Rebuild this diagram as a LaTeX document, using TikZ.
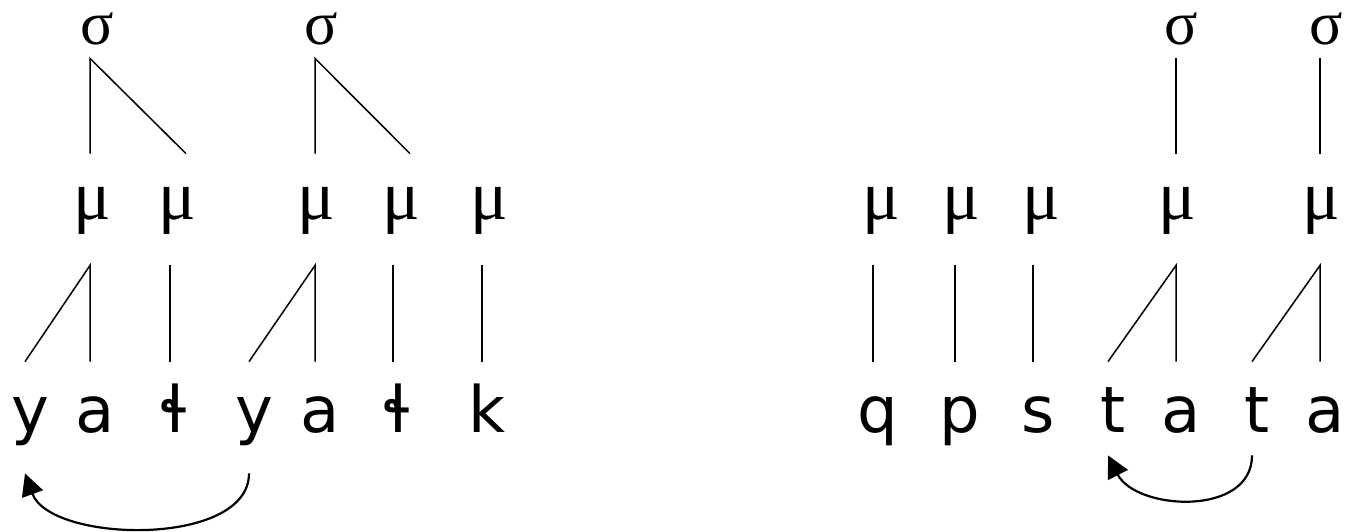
\documentclass[tikz,border=0pt]{standalone}
\usepackage{fontspec}
\setmainfont{DejaVu Sans}
\newfontfamily\segfont{DejaVu Sans}
\newfontfamily\grkfont{Liberation Serif}
\usetikzlibrary{arrows.meta}

\tikzset{
  seg/.style={font=\segfont\fontsize{32}{38}\selectfont, anchor=base,
    inner xsep=0pt, inner ysep=17.5pt, text height=17.5pt, text depth=0pt,
    execute at begin node={\hspace*{5pt}}},
  mora/.style={font=\grkfont\fontsize{35}{40}\selectfont, anchor=base,
    inner xsep=0pt, inner ysep=17pt, text height=15.5pt, text depth=6pt},
  syl/.style={font=\grkfont\fontsize{31}{36}\selectfont, anchor=base,
    inner xsep=0pt, inner ysep=7pt, text height=10pt, text depth=0pt},
  assoc/.style={line width=0.75pt},
  move/.style={line width=1.1pt, -{Triangle[length=11pt,width=11pt]}},
}

\begin{document}
\begin{tikzpicture}[x=0.5pt,y=0.5pt]
  \useasboundingbox (0,0) rectangle (1347,-531);
  % Segments
  \node[seg] (y1) at (25,-432) {y}; %
  \node[seg] (a1) at (90,-432) {a}; %
  \node[seg] (lh1) at (170,-432) {ɬ}; %
  \node[seg] (y2) at (249,-432) {y}; %
  \node[seg] (a2) at (315,-432) {a}; %
  \node[seg] (lh2) at (393,-432) {ɬ}; %
  \node[seg] (k) at (482,-432) {k}; %
  \node[seg] (q) at (873,-432) {q}; %
  \node[seg] (p) at (955,-432) {p}; %
  \node[seg] (s) at (1033,-432) {s}; %
  \node[seg] (t1) at (1108,-432) {t}; %
  \node[seg] (a3) at (1176,-432) {a}; %
  \node[seg] (t2) at (1252,-432) {t}; %
  \node[seg] (a4) at (1320,-432) {a}; %
  % Moras
  \node[mora] (mu1) at (92,-219) {μ}; %
  \node[mora] (mu2) at (177,-219) {μ}; %
  \node[mora] (mu3) at (316,-219) {μ}; %
  \node[mora] (mu4) at (401,-219) {μ}; %
  \node[mora] (mu5) at (489,-219) {μ}; %
  \node[mora] (mu6) at (881,-219) {μ}; %
  \node[mora] (mu7) at (961,-219) {μ}; %
  \node[mora] (mu8) at (1041,-219) {μ}; %
  \node[mora] (mu9) at (1177,-219) {μ}; %
  \node[mora] (mu10) at (1321,-219) {μ}; %
  % Syllables
  \node[syl] (sig1) at (97,-44) {σ}; %
  \node[syl] (sig2) at (321,-44) {σ}; %
  \node[syl] (sig3) at (1181,-44) {σ}; %
  \node[syl] (sig4) at (1326,-44) {σ}; %
  % Syllable to mora
  \draw[assoc] (a1.north |- mu1.north) -- (a1.north |- sig1.south)
    -- ([xshift=4.5pt]mu2.north); %
  \draw[assoc] (a2.north |- mu3.north) -- (a2.north |- sig2.south)
    -- ([xshift=4.5pt]mu4.north); %
  \draw[assoc] (a3.north |- mu9.north) -- (a3.north |- sig3.south); %
  \draw[assoc] (a4.north |- mu10.north) -- (a4.north |- sig4.south); %
  % Mora to segment
  \draw[assoc] (y1.north) -- (a1.north |- mu1.south) -- (a1.north); %
  \draw[assoc] (lh1.north) -- (lh1.north |- mu2.south); %
  \draw[assoc] (y2.north) -- (a2.north |- mu3.south) -- (a2.north); %
  \draw[assoc] (lh2.north) -- (lh2.north |- mu4.south); %
  \draw[assoc] (k.north) -- (k.north |- mu5.south); %
  \draw[assoc] (q.north) -- (q.north |- mu6.south); %
  \draw[assoc] (p.north) -- (p.north |- mu7.south); %
  \draw[assoc] (s.north) -- (s.north |- mu8.south); %
  \draw[assoc] (t1.north) -- (a3.north |- mu9.south) -- (a3.north); %
  \draw[assoc] (t2.north) -- (a4.north |- mu10.south) -- (a4.north); %
  % Movement
  \draw[move] ([yshift=-3pt]y2.south) to[out=-90, in=-70, looseness=0.85]
    ([yshift=-3pt]y1.south); %
  \draw[move] ([yshift=6pt]t2.south) to[out=-90, in=-63, looseness=1.1]
    ([yshift=6pt]t1.south); %
\end{tikzpicture}
\end{document}
